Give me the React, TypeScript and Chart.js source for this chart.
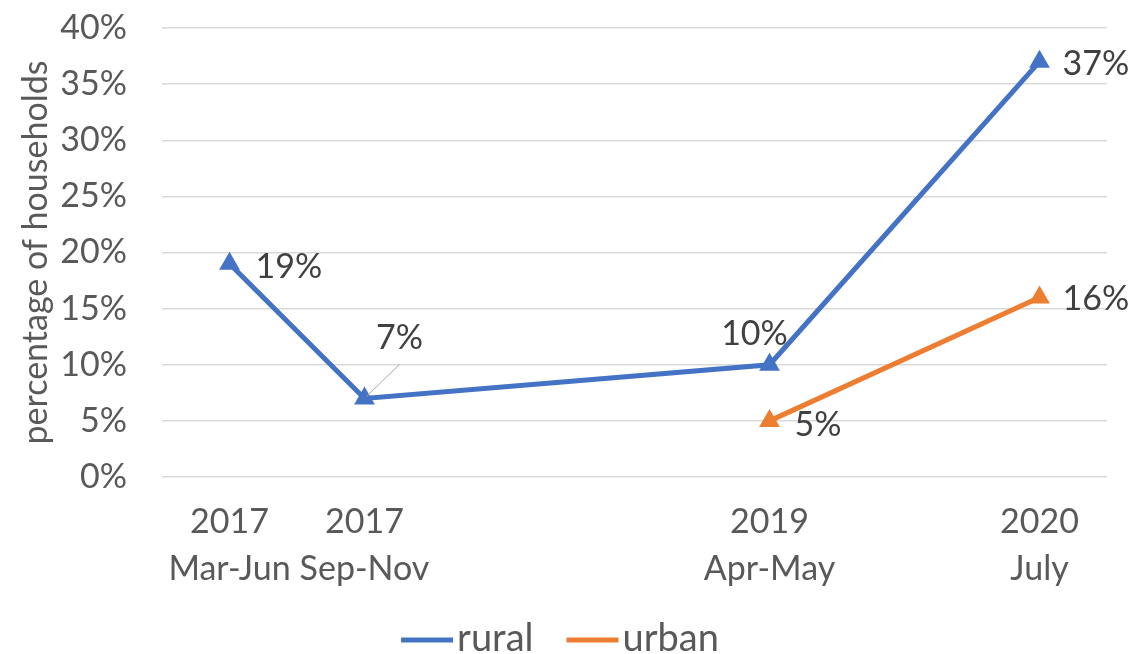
import React, { useEffect, useRef } from "react";
import { Chart, registerables } from "chart.js";

Chart.register(...registerables);

// ---- data ----
const categories: (string | string[])[] = [
  ["2017", "Mar-Jun"],
  ["2017", "Sep-Nov"],
  "",
  "",
  ["2019", "Apr-May"],
  "",
  ["2020", "July"],
];
const ruralValues: (number | null)[] = [19, 7, null, null, 10, null, 37];
const urbanValues: (number | null)[] = [null, null, null, null, 5, null, 16];
const seriesNames = ["rural", "urban"];
const yAxisTitle = "percentage of households";
const yMin = 0;
const yMax = 40;
const yStep = 5;

// ---- styles ----
const FONT = "Lato, 'Open Sans', 'DejaVu Sans', sans-serif";
const TEXT = "#595959";
const LABEL_TEXT = "#404040";
const BLUE = "#4472C4";
const ORANGE = "#ED7D31";
const W = 1133;
const H = 654;

// label placement: [dx, dy, align, leader] per dataset index and point index
const labelPlacement: Record<string, [number, number, CanvasTextAlign, boolean?]> = {
  "0-0": [26, 3, "left"],
  "0-1": [35, -60, "center", true],
  "0-4": [-15, -31, "center"],
  "0-6": [23, 2, "left"],
  "1-4": [25, 4, "left"],
  "1-6": [23, 2, "left"],
};

const dataLabelPlugin = {
  id: "dataLabels",
  afterDatasetsDraw(chart: any) {
    const ctx = chart.ctx;
    ctx.save();
    ctx.font = `34px ${FONT}`;
    ctx.fillStyle = LABEL_TEXT;
    ctx.textBaseline = "middle";
    chart.data.datasets.forEach((ds: any, di: number) => {
      const meta = chart.getDatasetMeta(di);
      meta.data.forEach((pt: any, i: number) => {
        const v = ds.data[i];
        if (v === null || v === undefined) return;
        const pl = labelPlacement[`${di}-${i}`];
        if (!pl) return;
        const [dx, dy, align, leader] = pl;
        const tx = pt.x + dx;
        const ty = pt.y + dy;
        if (leader) {
          ctx.save();
          ctx.strokeStyle = "#A6A6A6";
          ctx.lineWidth = 1;
          ctx.beginPath();
          ctx.moveTo(pt.x + 2, pt.y - 2);
          ctx.lineTo(tx, ty + 26);
          ctx.stroke();
          ctx.restore();
        }
        ctx.textAlign = align;
        ctx.fillText(`${v}%`, tx, ty);
      });
    });
    ctx.restore();
  },
};

const legendPlugin = {
  id: "customLegend",
  afterDraw(chart: any) {
    const ctx = chart.ctx;
    ctx.save();
    ctx.font = `38px ${FONT}`;
    ctx.textBaseline = "middle";
    ctx.textAlign = "left";
    const sample = 52;
    const gap = 4;
    const itemGap = 33;
    const items = chart.data.datasets.map((ds: any) => ({
      label: ds.label,
      color: ds.borderColor,
      w: sample + gap + ctx.measureText(ds.label).width,
    }));
    const total = items.reduce((s: number, it: any) => s + it.w, 0) + itemGap * (items.length - 1);
    let x = 560 - total / 2;
    const y = 640;
    items.forEach((it: any) => {
      ctx.fillStyle = it.color;
      ctx.fillRect(x, y - 2.5, sample, 5);
      ctx.fillStyle = TEXT;
      ctx.fillText(it.label, x + sample + gap, y - 1);
      x += it.w + itemGap;
    });
    ctx.restore();
  },
};

export default function App() {
  const ref = useRef<HTMLCanvasElement | null>(null);
  useEffect(() => {
    if (!ref.current) return;
    const chart = new Chart(ref.current, {
      type: "line",
      data: {
        labels: categories as any,
        datasets: [
          {
            label: seriesNames[0],
            data: ruralValues,
            borderColor: BLUE,
            backgroundColor: BLUE,
            borderWidth: 5,
            pointStyle: "triangle",
            pointRadius: 12,
            pointBorderWidth: 0,
            pointBackgroundColor: BLUE,
            spanGaps: true,
            tension: 0,
          },
          {
            label: seriesNames[1],
            data: urbanValues,
            borderColor: ORANGE,
            backgroundColor: ORANGE,
            borderWidth: 5,
            pointStyle: "triangle",
            pointRadius: 12,
            pointBorderWidth: 0,
            pointBackgroundColor: ORANGE,
            spanGaps: true,
            tension: 0,
          },
        ],
      },
      options: {
        responsive: false,
        animation: false,
        layout: { padding: { top: 28, right: 26, left: 0, bottom: 0 } },
        plugins: {
          legend: { display: false },
          tooltip: { enabled: false },
        },
        scales: {
          x: {
            offset: true,
            grid: { display: false, drawTicks: false },
            border: { display: false },
            ticks: {
              autoSkip: false,
              maxRotation: 0,
              minRotation: 0,
              padding: 22,
              color: TEXT,
              font: { family: FONT, size: 34, lineHeight: 47 / 34 },
            },
            afterFit(scale: any) {
              scale.height = H - 477;
            },
          },
          y: {
            min: yMin,
            max: yMax,
            grid: { color: "#D9D9D9", lineWidth: 1.5, drawTicks: false },
            border: { display: false },
            ticks: {
              stepSize: yStep,
              padding: 35,
              color: TEXT,
              font: { family: FONT, size: 34 },
              callback: (v: any) => `${v}%`,
            },
            title: {
              display: true,
              text: yAxisTitle,
              color: TEXT,
              font: { family: FONT, size: 34 },
              padding: { top: 16, bottom: 0 },
            },
            afterFit(scale: any) {
              scale.width = 162;
              scale.paddingTop = 0;
              scale.paddingBottom = 0;
            },
          },
        },
      },
      plugins: [dataLabelPlugin, legendPlugin],
    });
    return () => chart.destroy();
  }, []);
  return (
    <div style={{ position: "absolute", left: 0, top: 0, width: W, height: H, background: "#fff" }}>
      <canvas ref={ref} width={W} height={H} style={{ display: "block" }} />
    </div>
  );
}
